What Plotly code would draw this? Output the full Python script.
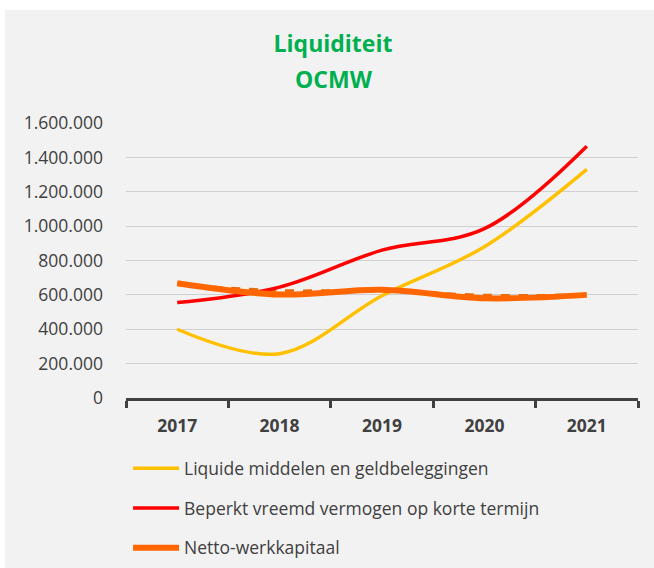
import plotly.graph_objects as go

# Jaren en reeksen (in euro)
jaren = ["2017", "2018", "2019", "2020", "2021"]
liquide = [400000, 258000, 595000, 880000, 1330000]
beperkt = [555000, 645000, 860000, 985000, 1465000]
netto = [668000, 602000, 630000, 580000, 600000]
netto_stippel = [660000, 625000, 625000, 598000, 600000]

y_ticks = [0, 200000, 400000, 600000, 800000, 1000000, 1200000, 1400000, 1600000]

FONT = "Open Sans"
GREY_TXT = "#404040"
GREEN = "#00B050"
ORANGE = "#FF6600"

fig = go.Figure()

fig.add_trace(go.Scatter(
    x=jaren, y=netto_stippel, mode="lines", showlegend=False,
    line=dict(color="#E46C0A", width=3, dash="dash", shape="spline", smoothing=1.0),
    hoverinfo="skip",
))
fig.add_trace(go.Scatter(
    x=jaren, y=liquide, mode="lines", name="Liquide middelen en geldbeleggingen",
    legendgroup="a",
    line=dict(color="#FFC000", width=3.5, shape="spline", smoothing=1.0),
))
fig.add_trace(go.Scatter(
    x=jaren, y=beperkt, mode="lines", name="Beperkt vreemd vermogen op korte termijn",
    legendgroup="b",
    line=dict(color="#FF0000", width=3.5, shape="spline", smoothing=1.0),
))
fig.add_trace(go.Scatter(
    x=jaren, y=netto, mode="lines", name="Netto-werkkapitaal",
    legendgroup="c",
    line=dict(color=ORANGE, width=6, shape="spline", smoothing=1.0),
))

fig.update_layout(
    width=654, height=568,
    margin=dict(l=126, r=16, t=123, b=170, autoexpand=False),
    paper_bgcolor="white",
    plot_bgcolor="rgba(0,0,0,0)",
    separators=",.",
    font=dict(family=FONT, size=17, color=GREY_TXT),
    title=dict(
        text="<b>Liquiditeit</b>",
        x=333 / 654, xanchor="center", y=1 - 44 / 568, yanchor="middle",
        font=dict(family=FONT, size=23, color=GREEN),
    ),
    annotations=[
        dict(
            text="<b>OCMW</b>", showarrow=False,
            xref="paper", yref="paper", x=(334 - 126) / 512, y=(398 - 79) / 275,
            xanchor="center", yanchor="middle",
            font=dict(family=FONT, size=23, color=GREEN),
        ),
        # pijlpunt aan het einde van het netto-werkkapitaal
        dict(
            x=jaren[-1], y=netto[-1], xref="x", yref="y",
            ax=-14, ay=1, text="", showarrow=True,
            arrowhead=2, arrowsize=0.9, arrowwidth=4, arrowcolor=ORANGE,
            standoff=0,
        ),
    ],
    showlegend=True,
    legend=dict(
        orientation="v", x=0.004, xanchor="left", y=-0.19, yanchor="top",
        font=dict(family=FONT, size=17.5, color=GREY_TXT),
        bgcolor="rgba(0,0,0,0)", tracegroupgap=14, traceorder="grouped",
        itemwidth=46,
    ),
    shapes=[dict(
        type="rect", xref="paper", yref="paper",
        x0=(5 - 126) / 512, x1=(654 - 126) / 512,
        y0=(398 - 568) / 275, y1=(398 - 10) / 275,
        fillcolor="#F2F2F2", line=dict(width=0), layer="below",
    )],
)

fig.update_xaxes(
    type="category", tickson="boundaries",
    showgrid=False, showline=True, linecolor="#404040", linewidth=3,
    ticks="outside", ticklen=7, tickwidth=2.5, tickcolor="#404040",
    tickfont=dict(family=FONT, size=17.5, color=GREY_TXT, weight="bold"),
    ticklabelstandoff=10,
    range=[-0.5, 4.5],
)
fig.update_yaxes(
    range=[0, 1600000], tickvals=y_ticks, tickformat=",d",
    showgrid=True, gridcolor="#D0D0D0", gridwidth=1.3,
    zeroline=False, showline=False, ticks="",
    tickfont=dict(family=FONT, size=17.5, color=GREY_TXT),
    ticklabelstandoff=22,
)

fig.write_html("out.html")
